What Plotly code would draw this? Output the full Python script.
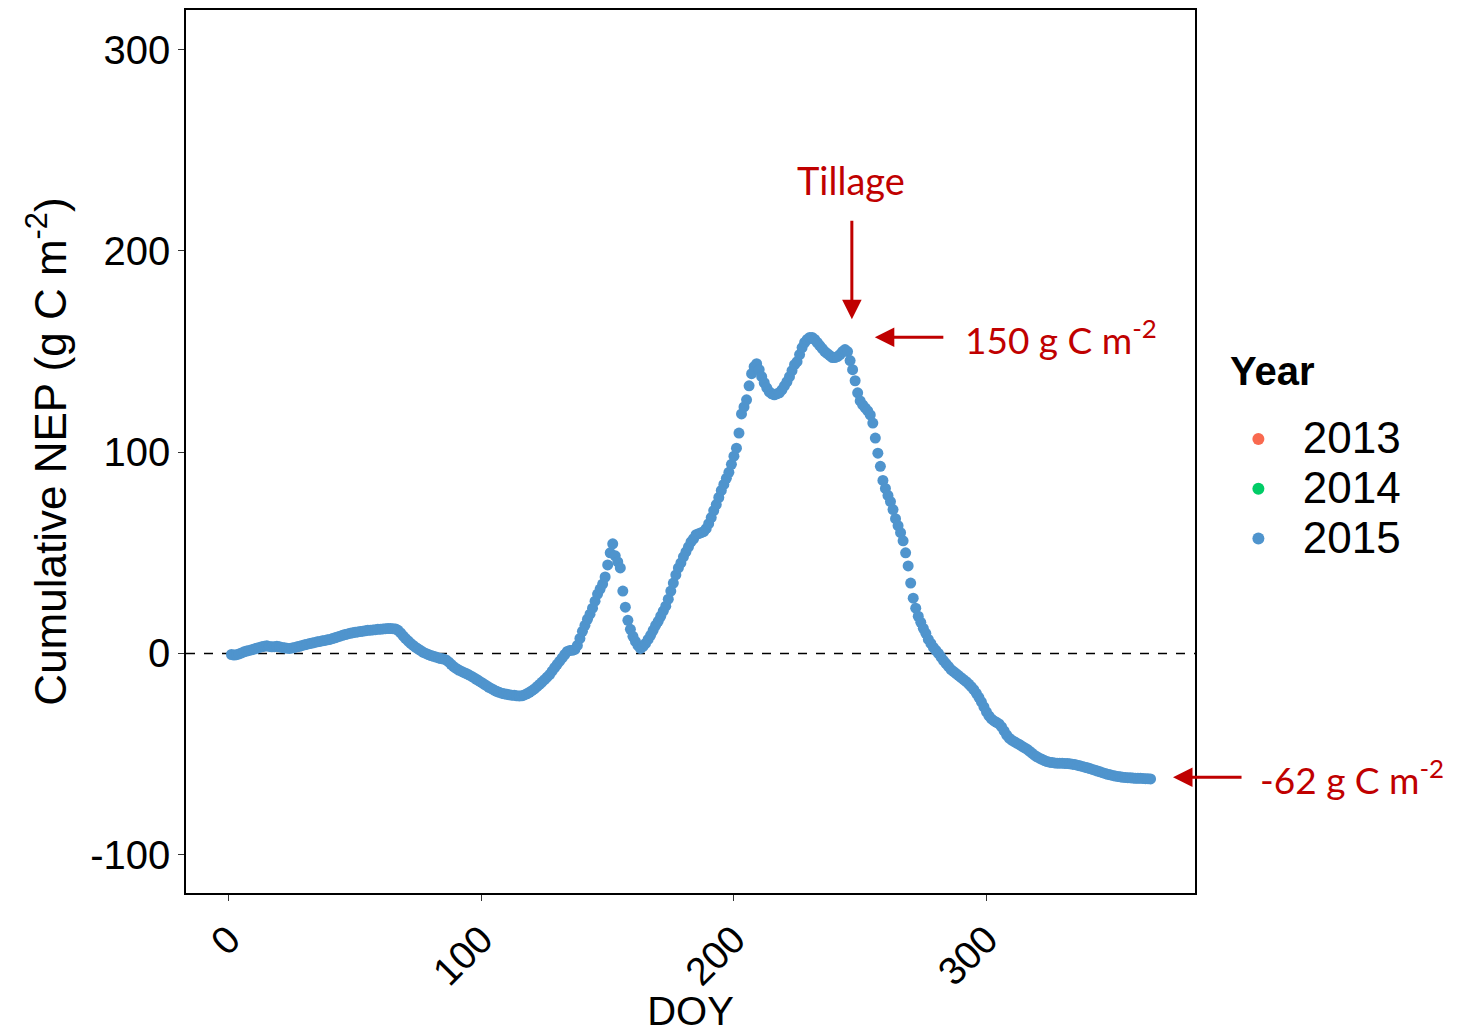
import plotly.graph_objects as go

# ---- data (2015, daily cumulative NEP, g C m-2) ----
doy = list(range(1, 366))
nep_2015 = [
    -0.5, -0.8, -0.6, -0.2, 0.3, 0.8, 1.2, 1.5, 1.8, 2.2,
    2.6, 3.0, 3.3, 3.6, 3.8, 3.5, 3.3, 3.4, 3.6, 3.3,
    3.0, 2.8, 2.6, 2.5, 2.7, 3.0, 3.3, 3.6, 4.0, 4.3,
    4.6, 4.9, 5.2, 5.5, 5.8, 6.0, 6.3, 6.5, 6.8, 7.0,
    7.4, 7.8, 8.2, 8.6, 9.0, 9.4, 9.7, 10.0, 10.3, 10.5,
    10.7, 10.9, 11.1, 11.3, 11.5, 11.6, 11.7, 11.8, 12.0, 12.1,
    12.2, 12.3, 12.4, 12.4, 12.3, 12.2, 11.5, 10.2, 8.8, 7.4,
    6.2, 5.0, 4.0, 3.0, 2.2, 1.4, 0.6, 0.0, -0.5, -1.0,
    -1.4, -1.8, -2.2, -2.5, -2.8, -3.2, -4.2, -5.4, -6.5, -7.4,
    -8.2, -8.8, -9.4, -10.0, -10.6, -11.3, -12.0, -12.8, -13.6, -14.4,
    -15.2, -16.0, -16.8, -17.5, -18.2, -18.8, -19.3, -19.7, -20.0, -20.3,
    -20.5, -20.7, -20.8, -21.0, -21.1, -21.0, -20.6, -20.0, -19.3, -18.5,
    -17.6, -16.5, -15.4, -14.2, -13.0, -11.8, -10.5, -8.8, -7.0, -5.4,
    -3.8, -2.2, -0.5, 1.0, 1.5, 1.6, 2.0, 4.0, 7.5, 11.0,
    14.0, 17.0, 19.5, 22.5, 26.0, 29.5, 32.0, 34.5, 38.0, 44.0,
    50.0, 54.5, 48.5, 45.5, 42.5, 31.0, 23.0, 16.5, 12.0, 8.5,
    6.0, 4.0, 2.5, 3.5, 5.0, 7.0, 9.0, 11.5, 14.0, 16.0,
    18.5, 21.0, 23.5, 27.0, 31.0, 35.0, 39.0, 42.5, 45.0, 48.0,
    50.5, 53.0, 55.5, 57.0, 59.0, 59.5, 60.0, 60.5, 62.0, 64.5,
    67.5, 71.0, 74.0, 77.5, 81.0, 84.0, 87.0, 90.0, 94.0, 98.0,
    102.0, 109.5, 119.0, 122.5, 126.0, 133.0, 139.0, 142.5, 144.0, 141.0,
    137.5, 134.5, 132.0, 130.0, 129.0, 128.5, 129.0, 129.5, 131.0, 133.0,
    135.0, 137.5, 140.5, 143.5, 145.0, 148.5, 152.0, 154.5, 156.0, 157.0,
    157.0, 156.0, 154.5, 153.0, 151.5, 150.0, 149.0, 148.0, 147.0, 147.0,
    147.5, 148.5, 150.0, 151.0, 150.0, 145.5, 141.0, 135.5, 129.5, 125.5,
    123.5, 122.0, 120.5, 118.5, 114.5, 107.0, 99.5, 93.0, 86.0, 82.0,
    78.5, 75.5, 71.5, 67.0, 63.5, 60.0, 56.0, 50.0, 43.5, 35.0,
    27.5, 22.5, 18.5, 15.5, 12.5, 10.0, 7.0, 5.0, 3.0, 1.5,
    0.0, -1.8, -3.5, -5.0, -6.5, -8.0, -9.0, -10.0, -11.0, -12.0,
    -13.0, -14.0, -15.2, -16.5, -18.0, -19.8, -21.8, -24.0, -26.5, -29.0,
    -31.0, -32.5, -33.5, -34.2, -35.0, -36.5, -38.5, -40.5, -42.0, -43.0,
    -43.8, -44.5, -45.2, -46.0, -46.8, -47.5, -48.5, -49.5, -50.5, -51.3,
    -52.0, -52.6, -53.2, -53.7, -54.0, -54.2, -54.4, -54.5, -54.5, -54.5,
    -54.6, -54.7, -54.8, -55.0, -55.2, -55.5, -55.8, -56.1, -56.5, -56.8,
    -57.2, -57.6, -58.0, -58.4, -58.8, -59.2, -59.6, -60.0, -60.3, -60.6,
    -60.9, -61.1, -61.3, -61.5, -61.6, -61.7, -61.8, -61.9, -62.0, -62.0,
    -62.0, -62.1, -62.2, -62.2, -62.3,
]
years = ["2013", "2014", "2015"]
year_colors = ["#f9694f", "#00cc66", "#4f94cd"]
x_ticks = [0, 100, 200, 300]
y_ticks = [-100, 0, 100, 200, 300]

# annotation anchor values (data units)
tillage_doy = 246.7
tillage_val = 166
peak_label = "150 g C m<sup>-2</sup>"
end_label = "-62 g C m<sup>-2</sup>"
peak_arrow = (255.8, 157.1)
end_arrow = (373.9, -61.5)

RED = "#c00000"
FONT = "Liberation Sans, Arial, sans-serif"
ANN_FONT = "Lato, Carlito, sans-serif"

fig = go.Figure()
for yr, col in zip(years, year_colors):
    label = '<span style="font-size:44px">\u00a0\u00a0' + yr + '</span>'
    if yr == "2015":
        fig.add_trace(go.Scatter(x=doy, y=nep_2015, mode="markers", name=label,
                                 marker=dict(color=col, size=11, line=dict(width=0))))
    else:
        fig.add_trace(go.Scatter(x=[None], y=[None], mode="markers", name=label,
                                 marker=dict(color=col, size=11, line=dict(width=0))))

fig.add_shape(type="line", xref="paper", yref="y", x0=0, x1=1, y0=0, y1=0,
              line=dict(color="black", width=1.5, dash="dash"), layer="below")

# arrows
arrow_style = dict(showarrow=True, arrowcolor=RED, arrowwidth=3, arrowhead=2, arrowsize=1.3)
fig.add_annotation(x=tillage_doy, y=tillage_val, xref="x", yref="y", text="", ax=0, ay=-100, **arrow_style)
fig.add_annotation(x=peak_arrow[0], y=peak_arrow[1], xref="x", yref="y", text="", ax=70, ay=0, **arrow_style)
fig.add_annotation(x=end_arrow[0], y=end_arrow[1], xref="x", yref="y", text="", ax=70, ay=0, **arrow_style)
# texts
fig.add_annotation(x=246.3, y=235, xref="x", yref="y", text="Tillage", showarrow=False,
                   font=dict(family=ANN_FONT, size=38, color=RED), xanchor="center", yanchor="middle")
fig.add_annotation(x=290.8, y=157.1, xref="x", yref="y", text=peak_label, showarrow=False,
                   font=dict(family=ANN_FONT, size=37, color=RED), xanchor="left", yanchor="middle")
fig.add_annotation(x=1.0625, y=0.131, xref="paper", yref="paper", text=end_label, showarrow=False,
                   font=dict(family=ANN_FONT, size=37, color=RED), xanchor="left", yanchor="middle")
# legend title
fig.add_annotation(x=1.0325, y=0.591, xref="paper", yref="paper", text="<b>Year</b>", showarrow=False,
                   font=dict(family=FONT, size=40, color="black"), xanchor="left", yanchor="middle")

fig.update_layout(
    width=1449, height=1025,
    margin=dict(l=178, r=262, t=0, b=140, pad=0),
    paper_bgcolor="white", plot_bgcolor="white",
    font=dict(family=FONT, color="black"),
    showlegend=True,
    legend=dict(x=1.043, y=0.548, xanchor="left", yanchor="top",
                font=dict(size=36, family=FONT), itemsizing="constant",
                bgcolor="rgba(0,0,0,0)", tracegroupgap=0),
)
fig.update_xaxes(range=[-17.0, 382.6], tickvals=x_ticks, ticktext=[str(v) for v in x_ticks],
                 tickangle=-45, tickfont=dict(size=39), ticks="outside", ticklen=6,
                 tickcolor="#333333", showline=True, linecolor="black", linewidth=1.5,
                 mirror=True, showgrid=False, zeroline=False,
                 title=dict(text="DOY", font=dict(size=40), standoff=10))
fig.update_yaxes(range=[-119.0, 319.7], tickvals=y_ticks, ticktext=[str(v) for v in y_ticks],
                 tickfont=dict(size=40), ticks="outside", ticklen=6, tickcolor="#333333",
                 showline=True, linecolor="black", linewidth=1.5, mirror=True,
                 showgrid=False, zeroline=False,
                 title=dict(text="Cumulative NEP (g C m<sup>-2</sup>)", font=dict(size=44), standoff=10))

fig.write_html("out.html")
